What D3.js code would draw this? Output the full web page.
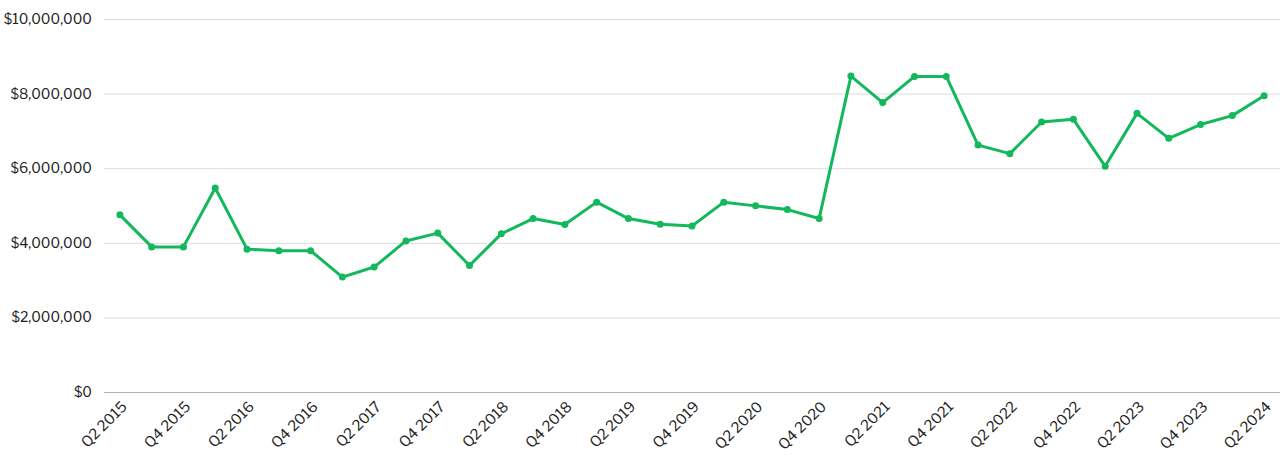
<!DOCTYPE html>
<html><head><meta charset="utf-8">
<script src="https://cdn.jsdelivr.net/npm/d3@7"></script>
<style>body{margin:0;background:#fff}svg{display:block}text{font-family:"Libre Franklin","Noto Sans",sans-serif}</style>
</head><body><svg id="c" width="1280" height="455"></svg>
<script>
const quarters = ["Q2 2015","Q3 2015","Q4 2015","Q1 2016","Q2 2016","Q3 2016","Q4 2016","Q1 2017","Q2 2017","Q3 2017","Q4 2017","Q1 2018","Q2 2018","Q3 2018","Q4 2018","Q1 2019","Q2 2019","Q3 2019","Q4 2019","Q1 2020","Q2 2020","Q3 2020","Q4 2020","Q1 2021","Q2 2021","Q3 2021","Q4 2021","Q1 2022","Q2 2022","Q3 2022","Q4 2022","Q1 2023","Q2 2023","Q3 2023","Q4 2023","Q1 2024","Q2 2024"];
const values = [4750000,3890000,3890000,5470000,3830000,3790000,3790000,3080000,3350000,4050000,4260000,3390000,4240000,4650000,4490000,5090000,4650000,4500000,4450000,5090000,4990000,4890000,4650000,8470000,7760000,8460000,8460000,6620000,6390000,7240000,7310000,6050000,7470000,6800000,7170000,7410000,7940000];
const yTicks = [0,2000000,4000000,6000000,8000000,10000000];
const xTickLabels = quarters.filter((q,i)=>i%2===0);

const svg = d3.select("#c");
const m = {l:104, r:0, t:19, b:63};
const W = 1280, H = 455;
const x = d3.scalePoint().domain(quarters).range([m.l, W-m.r]).padding(0.5);
const y = d3.scaleLinear().domain([0,10000000]).range([H-m.b, m.t]);

const fmt = d => "$" + d3.format(",")(d);
const gy = svg.append("g").attr("transform",`translate(${m.l},0)`)
  .call(d3.axisLeft(y).tickValues(yTicks).tickFormat(fmt).tickSize(-(W-m.l-m.r)).tickPadding(12));
gy.select(".domain").remove();
gy.selectAll(".tick line").attr("stroke", d=> d===0 ? "#b0b0b0" : "#dcdcdc");
gy.selectAll(".tick text").attr("font-size",14).attr("fill","#222");

const gx = svg.append("g").attr("transform",`translate(0,${H-m.b})`)
  .call(d3.axisBottom(x).tickValues(xTickLabels).tickSize(0));
gx.select(".domain").remove();
gx.selectAll(".tick text").attr("font-size",14.5).attr("fill","#222")
  .attr("x",0).attr("y",0).attr("dy","0.35em")
  .attr("text-anchor","end").attr("transform","translate(4,12) rotate(-45)");

const line = d3.line().x((d,i)=>x(quarters[i])).y(d=>y(d));
svg.append("path").datum(values).attr("d",line).attr("fill","none")
  .attr("stroke","#13b85c").attr("stroke-width",3).attr("stroke-linejoin","round");
svg.append("g").selectAll("circle").data(values).join("circle")
  .attr("cx",(d,i)=>x(quarters[i])).attr("cy",d=>y(d)).attr("r",3.5).attr("fill","#13b85c");
</script></body></html>
